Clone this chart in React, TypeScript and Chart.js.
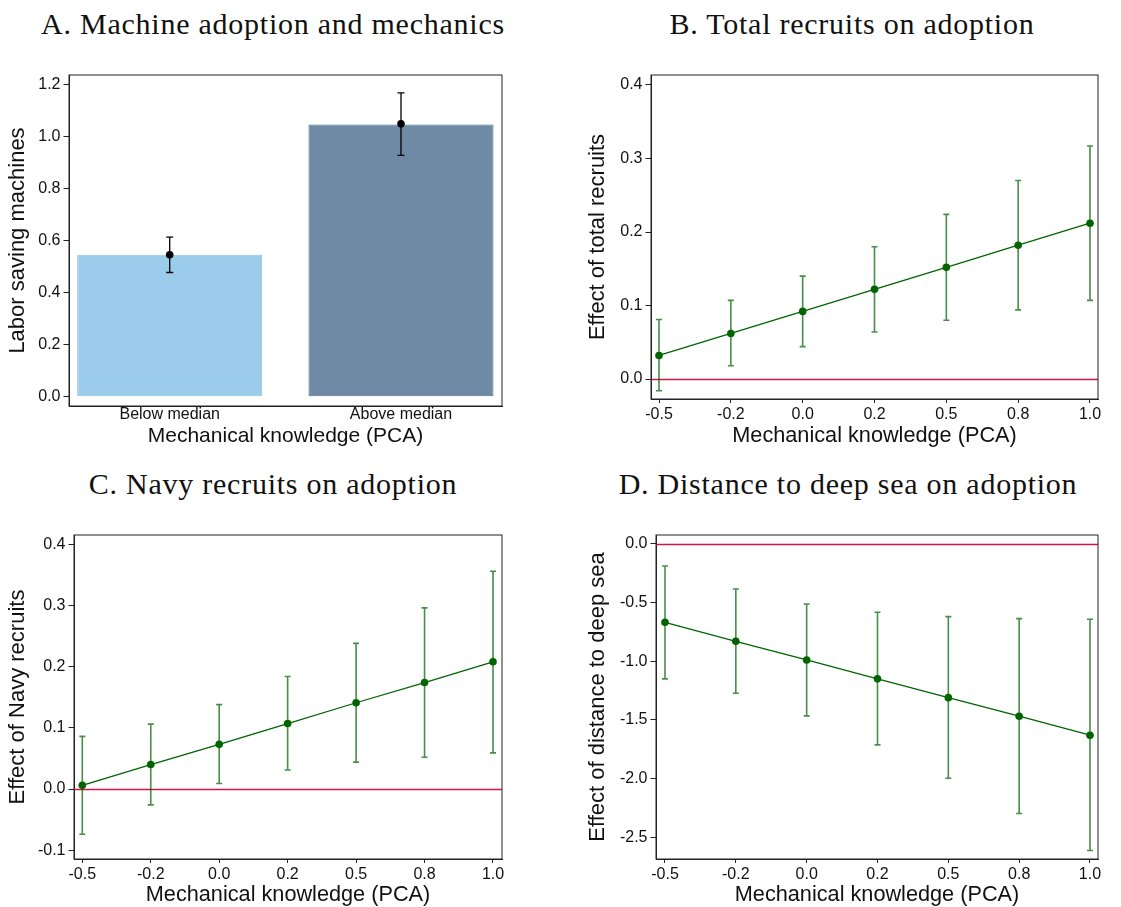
import React, { useEffect, useRef } from 'react';
import { Chart, registerables } from 'chart.js';

Chart.register(...registerables);

// ---------- Data ----------
const barCategories = ['Below median', 'Above median'];
const barValues = [0.545, 1.046];
const barPoint = [0.545, 1.048];
const barLower = [0.477, 0.927];
const barUpper = [0.613, 1.167];
const yTicksA = [0, 0.2, 0.4, 0.6, 0.8, 1.0, 1.2];

const xLabels = ['-0.5', '-0.2', '0.0', '0.2', '0.5', '0.8', '1.0'];

const totalEffect = [0.032, 0.062, 0.092, 0.122, 0.152, 0.182, 0.212];
const totalLower = [-0.016, 0.018, 0.044, 0.064, 0.080, 0.094, 0.107];
const totalUpper = [0.081, 0.107, 0.140, 0.180, 0.224, 0.270, 0.317];
const yTicksB = [0, 0.1, 0.2, 0.3, 0.4];

const navyEffect = [0.006, 0.040, 0.073, 0.107, 0.141, 0.174, 0.208];
const navyLower = [-0.074, -0.026, 0.009, 0.031, 0.044, 0.052, 0.059];
const navyUpper = [0.086, 0.106, 0.138, 0.184, 0.238, 0.296, 0.356];
const yTicksC = [-0.1, 0, 0.1, 0.2, 0.3, 0.4];

const seaEffect = [-0.669, -0.831, -0.990, -1.151, -1.311, -1.469, -1.631];
const seaLower = [-1.151, -1.273, -1.466, -1.713, -1.997, -2.298, -2.613];
const seaUpper = [-0.190, -0.386, -0.513, -0.584, -0.621, -0.638, -0.643];
const yTicksD = [-2.5, -2.0, -1.5, -1.0, -0.5, 0.0];

const titles = [
  { text: 'A. Machine adoption and mechanics', cx: 273, baseline: 34.3 },
  { text: 'B. Total recruits on adoption', cx: 852, baseline: 34.3 },
  { text: 'C. Navy recruits on adoption', cx: 273, baseline: 494.3 },
  { text: 'D. Distance to deep sea on adoption', cx: 848, baseline: 494.3 },
];

// ---------- Styles ----------
const SANS = '"Liberation Sans", Arial, sans-serif';
const TEXT = '#111';
const FRAME = '#222';
const GREEN = '#006400';
const GREEN_BAR = 'rgba(0,100,0,0.72)';
const ZERO_RED = '#d4144a';
const TICK_SIZE = 16;

type Area = { left: number; top: number; right: number; bottom: number };

const framePlugin = {
  id: 'frameBox',
  afterDraw(chart: any) {
    const { ctx, chartArea: a } = chart;
    ctx.save();
    ctx.strokeStyle = FRAME;
    ctx.lineWidth = 1;
    ctx.strokeRect(a.left, a.top, a.right - a.left, a.bottom - a.top);
    ctx.restore();
  },
};

function drawErrorBars(chart: any, lower: number[], upper: number[], color: string, width: number, cap: number) {
  const { ctx } = chart;
  const xs = chart.scales.x;
  const ys = chart.scales.y;
  ctx.save();
  ctx.strokeStyle = color;
  ctx.lineWidth = width;
  for (let i = 0; i < lower.length; i++) {
    const x = xs.getPixelForValue(i);
    const y1 = ys.getPixelForValue(lower[i]);
    const y2 = ys.getPixelForValue(upper[i]);
    ctx.beginPath();
    ctx.moveTo(x, y1);
    ctx.lineTo(x, y2);
    ctx.moveTo(x - cap, y1);
    ctx.lineTo(x + cap, y1);
    ctx.moveTo(x - cap, y2);
    ctx.lineTo(x + cap, y2);
    ctx.stroke();
  }
  ctx.restore();
}

function yScale(area: Area, min: number, max: number, ticks: number[], title: string) {
  return {
    type: 'linear',
    position: 'left',
    min,
    max,
    afterBuildTicks: (s: any) => {
      s.ticks = ticks.map((v) => ({ value: v }));
    },
    afterFit: (s: any) => {
      s.width = area.left;
    },
    ticks: {
      font: { family: SANS, size: TICK_SIZE },
      color: TEXT,
      padding: 3,
      autoSkip: false,
      callback: (v: any) => Number(v).toFixed(1),
    },
    grid: { display: true, drawOnChartArea: false, drawTicks: true, tickLength: 5.5, color: FRAME, lineWidth: 1 },
    border: { display: true, color: FRAME, width: 1 },
    title: { display: true, text: title, font: { family: SANS, size: 22 }, color: TEXT, padding: { top: 5, bottom: 0 } },
  };
}

function xScale(
  area: Area,
  canvasH: number,
  min: number,
  max: number,
  ticks: number[],
  labels: string[],
  tickLen: number,
  labelPad: number,
  titleSize: number,
  titlePadBottom: number,
) {
  return {
    type: 'linear',
    position: 'bottom',
    min,
    max,
    offset: false,
    afterBuildTicks: (s: any) => {
      s.ticks = ticks.map((v) => ({ value: v }));
    },
    afterFit: (s: any) => {
      s.height = canvasH - area.bottom;
    },
    ticks: {
      font: { family: SANS, size: TICK_SIZE },
      color: TEXT,
      padding: labelPad,
      autoSkip: false,
      maxRotation: 0,
      minRotation: 0,
      callback: (v: any) => labels[Math.round(Number(v))],
    },
    grid: {
      display: true,
      offset: false,
      drawOnChartArea: false,
      drawTicks: tickLen > 0,
      tickLength: tickLen,
      color: FRAME,
      lineWidth: 1,
    },
    border: { display: true, color: FRAME, width: 1 },
    title: {
      display: true,
      text: 'Mechanical knowledge (PCA)',
      font: { family: SANS, size: titleSize },
      color: TEXT,
      padding: { top: 0, bottom: titlePadBottom },
    },
  };
}

type PanelProps = { left: number; top: number; width: number; height: number; build: () => any };

function ChartPanel({ left, top, width, height, build }: PanelProps) {
  const ref = useRef<HTMLCanvasElement>(null);
  useEffect(() => {
    const chart = new Chart(ref.current as HTMLCanvasElement, build());
    return () => chart.destroy();
  }, []);
  return (
    <canvas
      ref={ref}
      width={width}
      height={height}
      style={{ position: 'absolute', left, top, width, height, display: 'block' }}
    />
  );
}

function buildBar() {
  const W = 560;
  const H = 400;
  const area: Area = { left: 69, top: 15, right: 502, bottom: 346 };
  const errPlugin = {
    id: 'errA',
    afterDatasetDraw(chart: any, args: any) {
      if (args.meta.type !== 'bar') return;
      drawErrorBars(chart, barLower, barUpper, '#000', 1.3, 3.5);
    },
  };
  return {
    type: 'bar',
    data: {
      datasets: [
        {
          type: 'line',
          data: barPoint.map((v, i) => ({ x: i, y: v })),
          showLine: false,
          pointRadius: 3.8,
          pointBackgroundColor: '#000',
          pointBorderWidth: 0,
          order: 0,
        },
        {
          type: 'bar',
          data: barValues.map((v, i) => ({ x: i, y: v })),
          backgroundColor: ['#9BCCEB', '#6E8AA5'],
          borderColor: ['#8CC3E7', '#4F6F91'],
          borderWidth: 1,
          borderSkipped: false,
          categoryPercentage: 1,
          barPercentage: 0.8,
          order: 1,
        },
      ],
    },
    options: {
      animation: false,
      responsive: false,
      maintainAspectRatio: false,
      events: [],
      layout: { padding: { left: 0, top: area.top, right: W - area.right, bottom: 0 } },
      plugins: { legend: { display: false }, tooltip: { enabled: false } },
      scales: {
        x: xScale(area, H, -0.4354, 1.4367, [0, 1], barCategories, 0, -1, 21, 11.4),
        y: yScale(area, -0.0357, 1.2357, yTicksA, 'Labor saving machines'),
      },
    },
    plugins: [errPlugin, framePlugin],
  };
}

function buildLine(
  W: number,
  H: number,
  area: Area,
  xr: [number, number],
  yr: [number, number],
  yTicks: number[],
  yTitle: string,
  eff: number[],
  lo: number[],
  hi: number[],
  titlePadBottom: number,
) {
  const errPlugin = {
    id: 'errLine',
    beforeDatasetsDraw(chart: any) {
      const { ctx, chartArea: a } = chart;
      const y0 = Math.round(chart.scales.y.getPixelForValue(0)) + 0.5;
      ctx.save();
      ctx.strokeStyle = ZERO_RED;
      ctx.lineWidth = 1.3;
      ctx.beginPath();
      ctx.moveTo(a.left, y0);
      ctx.lineTo(a.right, y0);
      ctx.stroke();
      ctx.restore();
      drawErrorBars(chart, lo, hi, GREEN_BAR, 1.6, 3);
    },
  };
  return {
    type: 'line',
    data: {
      datasets: [
        {
          data: eff.map((v, i) => ({ x: i, y: v })),
          borderColor: GREEN,
          borderWidth: 1.3,
          pointRadius: 3.8,
          pointBackgroundColor: GREEN,
          pointBorderWidth: 0,
          tension: 0,
          fill: false,
        },
      ],
    },
    options: {
      animation: false,
      responsive: false,
      maintainAspectRatio: false,
      events: [],
      layout: { padding: { left: 0, top: area.top, right: W - area.right, bottom: 0 } },
      plugins: { legend: { display: false }, tooltip: { enabled: false } },
      scales: {
        x: xScale(area, H, xr[0], xr[1], [0, 1, 2, 3, 4, 5, 6], xLabels, 4, 1.5, 21.7, titlePadBottom),
        y: yScale(area, yr[0], yr[1], yTicks, yTitle),
      },
    },
    plugins: [errPlugin, framePlugin],
  };
}

export default function App() {
  return (
    <div
      style={{
        position: 'absolute',
        left: 0,
        top: 0,
        width: 1121,
        height: 907,
        background: '#fff',
        overflow: 'hidden',
      }}
    >
      {titles.map((t) => (
        <div
          key={t.text}
          style={{
            position: 'absolute',
            left: t.cx - 300,
            width: 600,
            top: t.baseline - 25.1,
            textAlign: 'center',
            fontFamily: '"Liberation Serif", "Times New Roman", serif',
            fontSize: 30,
            lineHeight: '30px',
            letterSpacing: '0.75px',
            color: '#111',
            whiteSpace: 'nowrap',
          }}
        >
          {t.text}
        </div>
      ))}
      <ChartPanel left={0} top={60} width={560} height={400} build={buildBar} />
      <ChartPanel
        left={580}
        top={60}
        width={541}
        height={400}
        build={() =>
          buildLine(
            541,
            400,
            { left: 71, top: 15, right: 518, bottom: 339 },
            [-0.1114, 6.1114],
            [-0.0272, 0.4136],
            yTicksB,
            'Effect of total recruits',
            totalEffect,
            totalLower,
            totalUpper,
            11,
          )
        }
      />
      <ChartPanel
        left={0}
        top={520}
        width={560}
        height={387}
        build={() =>
          buildLine(
            560,
            387,
            { left: 74, top: 15, right: 502, bottom: 339 },
            [-0.1213, 6.1315],
            [-0.1144, 0.4152],
            yTicksC,
            'Effect of Navy recruits',
            navyEffect,
            navyLower,
            navyUpper,
            -1,
          )
        }
      />
      <ChartPanel
        left={580}
        top={520}
        width={541}
        height={387}
        build={() =>
          buildLine(
            541,
            387,
            { left: 76, top: 15, right: 518, bottom: 339 },
            [-0.127, 6.113],
            [-2.6848, 0.0741],
            yTicksD,
            'Effect of distance to deep sea',
            seaEffect,
            seaLower,
            seaUpper,
            -1,
          )
        }
      />
    </div>
  );
}
